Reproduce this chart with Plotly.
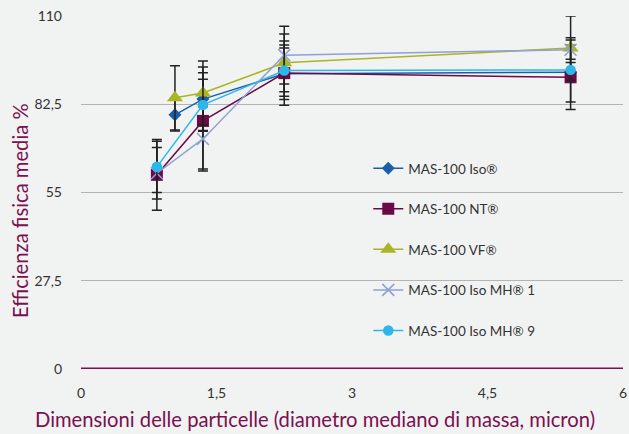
import plotly.graph_objects as go

series_names = ["MAS-100 Iso®", "MAS-100 NT®", "MAS-100 VF®", "MAS-100 Iso MH® 1", "MAS-100 Iso MH® 9"]
iso_x = [1.04, 1.35, 2.25, 5.42]
iso_y = [79.2, 84.1, 92.0, 92.5]
iso_err = [5, 10, 8, 3]
nt_x = [0.84, 1.35, 2.25, 5.42]
nt_y = [60.5, 77.3, 92.2, 90.9]
nt_err = [11, 15, 10, 10]
vf_x = [1.04, 1.35, 2.25, 5.42]
vf_y = [84.5, 86.0, 95.4, 100.0]
vf_err = [10, 10, 9, 10]
mh1_x = [0.84, 1.35, 2.25, 5.42]
mh1_y = [61.0, 71.7, 97.8, 99.5]
mh1_err = [8, 10, 9, 3]
mh9_x = [0.84, 1.35, 2.25, 5.42]
mh9_y = [63.0, 82.3, 93.0, 93.2]
mh9_err = [8, 8, 8, 10]
y_ticks = [0, 27.5, 55, 82.5, 110]
y_tick_labels = ["0", "27,5", "55", "82,5", "110"]
x_ticks = [0, 1.5, 3, 4.5, 6]
x_tick_labels = ["0", "1,5", "3", "4,5", "6"]
x_title = "Dimensioni delle particelle (diametro mediano di massa, micron)"
y_title = "Efficienza fisica media %"

colors = ["#1b5ea8", "#6a0a47", "#a9b523", "#8ea0d6", "#2cb6ea"]
symbols = ["diamond", "square", "triangle-up", "x-thin-open", "circle"]
sizes = [10, 12, 14, 12, 10.5]
data = [(iso_x, iso_y, iso_err), (nt_x, nt_y, nt_err), (vf_x, vf_y, vf_err),
        (mh1_x, mh1_y, mh1_err), (mh9_x, mh9_y, mh9_err)]

fig = go.Figure()
for i, (xs, ys, es) in enumerate(data):
    marker = dict(symbol=symbols[i], size=sizes[i], color=colors[i])
    if symbols[i] == "x-thin-open":
        marker["line"] = dict(color=colors[i], width=1.5)
    fig.add_trace(go.Scatter(
        x=xs, y=ys, name=series_names[i], mode="lines+markers",
        line=dict(color=colors[i], width=1.5),
        marker=marker,
        legendgroup=f"g{i}",
        error_y=dict(type="data", array=es, visible=True, color="#222222",
                     thickness=1.5, width=5),
    ))

title_color = "#7a1050"
fig.update_layout(
    width=629, height=434,
    paper_bgcolor="#f1f3f2", plot_bgcolor="#f1f3f2",
    margin=dict(l=81, r=6, t=16, b=65),
    font=dict(family="Lato", color="#333333", size=14),
    showlegend=True,
    legend=dict(x=0.53, y=0.612, xanchor="left", yanchor="top",
                bgcolor="rgba(0,0,0,0)", font=dict(size=13.5, color="#333333"),
                tracegroupgap=20, itemwidth=30),
    xaxis=dict(range=[0, 6], tickvals=x_ticks, ticktext=x_tick_labels,
               showgrid=False, zeroline=False, showline=False, ticks="",
               ticklabelstandoff=14, automargin=False),
    yaxis=dict(range=[0, 110], tickvals=y_ticks, ticktext=y_tick_labels,
               showgrid=True, gridcolor="#b4b4b4", gridwidth=1, automargin=False,
               zeroline=False, showline=False, ticks="", ticklabelstandoff=18),
)
fig.add_annotation(text=x_title, xref="paper", yref="paper", x=0.431, y=-0.1416,
                   xanchor="center", yanchor="middle", showarrow=False,
                   font=dict(size=20.2, color=title_color))
fig.add_annotation(text=y_title, xref="paper", yref="paper", x=-0.1125, y=0.4476,
                   xanchor="center", yanchor="middle", showarrow=False, textangle=-90,
                   font=dict(size=20.2, color=title_color))
fig.add_shape(type="line", xref="paper", yref="y", x0=0, x1=1, y0=0, y1=0,
              line=dict(color="#7a1050", width=3), layer="below")

fig.write_html("out.html", post_script="document.body.style.margin='0';",
               config={"displayModeBar": False})
